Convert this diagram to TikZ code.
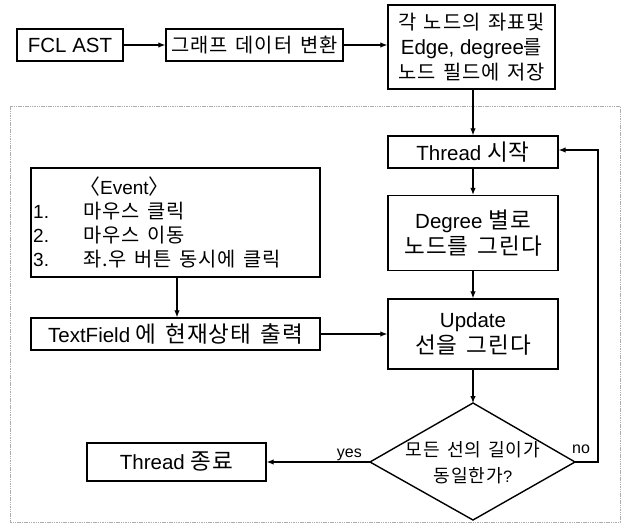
\documentclass[tikz,border=0pt]{standalone}
\usepackage{fontspec}
\setmainfont{Liberation Sans}
\newfontfamily\krfont{Noto Sans CJK KR}[Scale=1.1,LetterSpace=5,WordSpace=1.4]
\newcommand\hg[1]{{\krfont #1}}
\usetikzlibrary{shapes.geometric,arrows.meta}
\begin{document}
\begin{tikzpicture}[x=1pt,y=-1pt,
  box/.style={draw,line width=1.4pt,inner sep=0pt,align=center,
    font=\fontsize{20.5}{26}\selectfont},
  link/.style={line width=1.1pt,-{Latex[length=7pt,width=5.5pt]}},
  tag/.style={font=\fontsize{16}{18}\selectfont,inner sep=1pt},
  frame/.style={draw=gray!65,line width=0.7pt,dash pattern=on 1.5pt off 0.8pt}]
\useasboundingbox (0,0) rectangle (624,527);

% outer dashed region
\draw[frame] (10,106) rectangle (620,522);

% top row
\node[box,minimum width=106pt,minimum height=32pt] (fcl) at (70,45) {FCL AST};
\node[box,minimum width=177pt,minimum height=32pt,font=\fontsize{18}{22}\selectfont] (graph) at (254.5,45)
  {\hg{그래프 데이터 변환}};
\node[box,minimum width=167pt,minimum height=84pt,font=\fontsize{18}{25}\selectfont] (store) at (471.5,47)
  {\hg{각 노드의 좌표및}\\{\fontsize{20.5}{25}\selectfont Edge, degree}\hg{를}\\\hg{노드 필드에 저장}};

% main loop column
\node[box,minimum width=170pt,minimum height=32pt] (thread) at (473,152) {Thread \hg{시작}};
\node[box,minimum width=170pt,minimum height=75pt] (degree) at (473,233) {Degree \hg{별로}\\\hg{노드를 그린다}};
\node[box,minimum width=170pt,minimum height=70pt] (update) at (473,334) {Update\\\hg{선을 그린다}};

% decision diamond
\coordinate (dn) at (473,403);
\coordinate (ds) at (473,520);
\coordinate (dw) at (370,462);
\coordinate (de) at (575,462);
\draw[line width=1.4pt] (dn) -- (de) -- (ds) -- (dw) -- cycle;
\node[align=center,font=\fontsize{16.5}{26}\selectfont] (check) at (473,463)
  {\hg{모든 선의 길이가}\\\hg{동일한가}?};

\node[box,minimum width=179pt,minimum height=38pt] (stop) at (176.5,462) {Thread \hg{종료}};

% event side
\node[box,minimum width=289pt,minimum height=109pt] (event) at (175.5,222.5) {};
\node[anchor=north west,inner sep=0pt,font=\fontsize{19}{24.3}\selectfont] (evlist) at (33,177)
  {\begin{tabular}{@{}l@{\hspace{34pt}}l@{}}
     & \kern-0.2em\hg{〈}Event\hg{〉}\\[-0.5pt]
   1. & {\fontsize{18}{24.3}\selectfont\hg{마우스 클릭}}\\[-0.5pt]
   2. & {\fontsize{18}{24.3}\selectfont\hg{마우스 이동}}\\[-0.5pt]
   3. & {\fontsize{18}{24.3}\selectfont\hg{좌.우 버튼 동시에 클릭}}
   \end{tabular}};
\node[box,minimum width=289pt,minimum height=32pt] (tf) at (175.5,334) {TextField \hg{에 현재상태 출력}};

% connectors
\draw[link] (fcl.east) -- (graph.west);
\draw[link] (graph.east) -- (graph.east -| store.west);
\draw[link] (store.south -| thread.north) -- (thread.north);
\draw[link] (thread.south) -- (degree.north);
\draw[link] (degree.south) -- (update.north);
\draw[link] (update.south) -- (dn);
\draw[link] (event.south -| 177,0) -- (tf.north -| 177,0);
\draw[link] (tf.east) -- (tf.east -| update.west);
\draw[link] (dw) -- node[tag,above,pos=0.2] {yes} (stop.east);
\coordinate (back) at (598,462);
\coordinate (backtop) at (598,150);
\draw[link] (de) -- (back) -- (backtop) -- (backtop -| thread.east);
\node[tag,anchor=south] at (581,455) {no};
\end{tikzpicture}
\end{document}
